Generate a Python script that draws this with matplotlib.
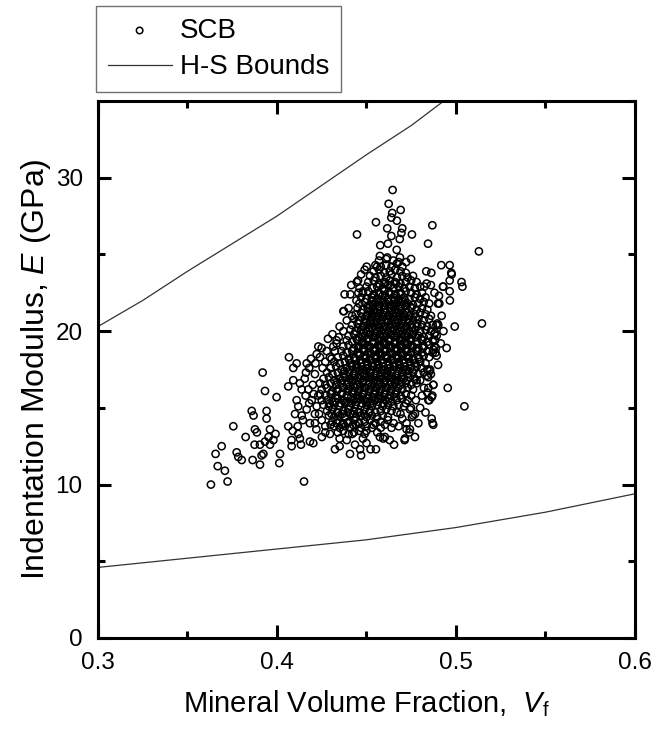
import numpy as np
import matplotlib
matplotlib.use('Agg')
import matplotlib.pyplot as plt
from matplotlib.ticker import MultipleLocator, FormatStrFormatter

plt.rcParams['font.family'] = ['Liberation Sans', 'DejaVu Sans']
plt.rcParams['mathtext.fontset'] = 'custom'
plt.rcParams['mathtext.rm'] = 'Liberation Sans'
plt.rcParams['mathtext.it'] = 'Liberation Sans:italic'

# Hashin-Shtrikman bounds
hs_upper_vf = [0.300, 0.325, 0.350, 0.375, 0.400, 0.425, 0.450, 0.475, 0.500]
hs_upper_e = [20.3, 22.0, 23.9, 25.7, 27.5, 29.5, 31.5, 33.4, 35.6]
hs_lower_vf = [0.30, 0.35, 0.40, 0.45, 0.50, 0.55, 0.60]
hs_lower_e = [4.6, 5.2, 5.8, 6.4, 7.2, 8.2, 9.4]

# SCB indentation points (Vf, E)
scb_core = """
0.434 13.4 0.437 13.5 0.440 13.3 0.443 13.4 0.446 13.5 0.449 13.3
0.432 13.8 0.435 13.7 0.438 13.8 0.441 13.7 0.444 13.9 0.447 13.7 0.450 13.8 0.453 13.7
0.431 14.1 0.434 14.2 0.437 14.0 0.440 14.1 0.443 14.2 0.446 14.0 0.449 14.1 0.452 14.2 0.455 14.0 0.458 14.1
0.429 14.5 0.432 14.4 0.435 14.5 0.438 14.4 0.441 14.6 0.444 14.4 0.447 14.5 0.450 14.4 0.453 14.5 0.456 14.4 0.459 14.5 0.462 14.4
0.428 14.8 0.431 14.9 0.434 14.7 0.437 14.8 0.440 14.9 0.443 14.8 0.446 14.7 0.449 14.9 0.452 14.8 0.455 14.7 0.458 14.8 0.461 14.9 0.464 14.8 0.467 14.7
0.426 15.2 0.429 15.1 0.432 15.2 0.435 15.1 0.438 15.3 0.441 15.1 0.444 15.2 0.447 15.1 0.450 15.2 0.453 15.1 0.456 15.2 0.459 15.1 0.462 15.2 0.465 15.1 0.468 15.2 0.471 15.1
0.425 15.5 0.428 15.5 0.431 15.4 0.434 15.6 0.437 15.5 0.440 15.4 0.443 15.5 0.446 15.6 0.449 15.5 0.452 15.4 0.455 15.5 0.458 15.6 0.461 15.5 0.464 15.4 0.467 15.5 0.470 15.6 0.473 15.5
0.424 15.9 0.427 15.8 0.430 15.9 0.433 15.8 0.436 15.9 0.439 15.8 0.442 16.0 0.445 15.8 0.448 15.9 0.451 15.8 0.454 15.9 0.457 15.8 0.460 15.9 0.463 15.8 0.466 15.9 0.469 15.8 0.472 15.9 0.475 15.8
0.425 16.2 0.428 16.3 0.431 16.1 0.434 16.2 0.437 16.3 0.440 16.2 0.443 16.1 0.446 16.2 0.449 16.3 0.452 16.2 0.455 16.1 0.458 16.2 0.461 16.3 0.464 16.2 0.467 16.1 0.470 16.2 0.473 16.3 0.476 16.2
0.424 16.6 0.427 16.5 0.430 16.6 0.433 16.5 0.436 16.6 0.439 16.5 0.442 16.7 0.445 16.5 0.448 16.6 0.451 16.5 0.454 16.6 0.457 16.5 0.460 16.6 0.463 16.5 0.466 16.6 0.469 16.5 0.472 16.6 0.475 16.5 0.478 16.6
0.426 16.9 0.429 17.0 0.432 16.8 0.435 16.9 0.438 17.0 0.441 16.9 0.444 16.8 0.447 16.9 0.450 17.0 0.453 16.9 0.456 16.8 0.459 16.9 0.462 17.0 0.465 16.9 0.468 16.8 0.471 16.9 0.474 17.0 0.477 16.9 0.480 16.8
0.428 17.3 0.431 17.2 0.434 17.3 0.437 17.2 0.440 17.3 0.443 17.2 0.446 17.4 0.449 17.2 0.452 17.3 0.455 17.2 0.458 17.3 0.461 17.2 0.464 17.3 0.467 17.2 0.470 17.3 0.473 17.2 0.476 17.3 0.479 17.2 0.482 17.3
0.430 17.6 0.433 17.7 0.436 17.5 0.439 17.6 0.442 17.7 0.445 17.6 0.448 17.5 0.451 17.6 0.454 17.7 0.457 17.6 0.460 17.5 0.463 17.6 0.466 17.7 0.469 17.6 0.472 17.5 0.475 17.6 0.478 17.7 0.481 17.6 0.484 17.5
0.432 18.0 0.435 17.9 0.438 18.0 0.441 17.9 0.444 18.1 0.447 17.9 0.450 18.0 0.453 17.9 0.456 18.0 0.459 17.9 0.462 18.0 0.465 17.9 0.468 18.0 0.471 17.9 0.474 18.0 0.477 17.9 0.480 18.0 0.483 17.9
0.434 18.3 0.437 18.4 0.440 18.2 0.443 18.3 0.446 18.4 0.449 18.3 0.452 18.2 0.455 18.3 0.458 18.4 0.461 18.3 0.464 18.2 0.467 18.3 0.470 18.4 0.473 18.3 0.476 18.2 0.479 18.3 0.482 18.4 0.485 18.3
0.436 18.7 0.439 18.6 0.442 18.7 0.445 18.6 0.448 18.8 0.451 18.6 0.454 18.7 0.457 18.6 0.460 18.7 0.463 18.6 0.466 18.7 0.469 18.6 0.472 18.7 0.475 18.6 0.478 18.7 0.481 18.6 0.484 18.7 0.487 18.6
0.437 19.0 0.440 19.1 0.443 18.9 0.446 19.0 0.449 19.1 0.452 19.0 0.455 18.9 0.458 19.0 0.461 19.1 0.464 19.0 0.467 18.9 0.470 19.0 0.473 19.1 0.476 19.0 0.479 18.9 0.482 19.0 0.485 19.1 0.488 19.0
0.439 19.4 0.442 19.3 0.445 19.4 0.448 19.3 0.451 19.5 0.454 19.3 0.457 19.4 0.460 19.3 0.463 19.4 0.466 19.3 0.469 19.4 0.472 19.3 0.475 19.4 0.478 19.3 0.481 19.4 0.484 19.3 0.487 19.4
0.440 19.7 0.443 19.8 0.446 19.6 0.449 19.7 0.452 19.8 0.455 19.7 0.458 19.6 0.461 19.7 0.464 19.8 0.467 19.7 0.470 19.6 0.473 19.7 0.476 19.8 0.479 19.7 0.482 19.6 0.485 19.7 0.488 19.8
0.441 20.1 0.444 20.0 0.447 20.1 0.450 20.0 0.453 20.2 0.456 20.0 0.459 20.1 0.462 20.0 0.465 20.1 0.468 20.0 0.471 20.1 0.474 20.0 0.477 20.1 0.480 20.0 0.483 20.1 0.486 20.0
0.442 20.4 0.445 20.5 0.448 20.3 0.451 20.4 0.454 20.5 0.457 20.4 0.460 20.3 0.463 20.4 0.466 20.5 0.469 20.4 0.472 20.3 0.475 20.4 0.478 20.5 0.481 20.4 0.484 20.3 0.487 20.4
0.443 20.8 0.446 20.7 0.449 20.8 0.452 20.7 0.455 20.9 0.458 20.7 0.461 20.8 0.464 20.7 0.467 20.8 0.470 20.7 0.473 20.8 0.476 20.7 0.479 20.8 0.482 20.7 0.485 20.8
0.444 21.1 0.447 21.2 0.450 21.0 0.453 21.1 0.456 21.2 0.459 21.1 0.462 21.0 0.465 21.1 0.468 21.2 0.471 21.1 0.474 21.0 0.477 21.1 0.480 21.2 0.483 21.1 0.486 21.0
0.445 21.5 0.448 21.4 0.451 21.5 0.454 21.4 0.457 21.6 0.460 21.4 0.463 21.5 0.466 21.4 0.469 21.5 0.472 21.4 0.475 21.5 0.478 21.4 0.481 21.5 0.484 21.4
0.446 21.8 0.449 21.9 0.452 21.7 0.455 21.8 0.458 21.9 0.461 21.8 0.464 21.7 0.467 21.8 0.470 21.9 0.473 21.8 0.476 21.7 0.479 21.8 0.482 21.9 0.485 21.8
0.447 22.2 0.450 22.1 0.453 22.2 0.456 22.1 0.459 22.3 0.462 22.1 0.465 22.2 0.468 22.1 0.471 22.2 0.474 22.1 0.477 22.2 0.480 22.1 0.483 22.2
0.448 22.5 0.451 22.6 0.454 22.4 0.457 22.5 0.460 22.6 0.463 22.5 0.466 22.4 0.469 22.5 0.472 22.6 0.475 22.5 0.478 22.4 0.481 22.5
0.450 22.9 0.453 22.8 0.456 22.9 0.459 22.8 0.462 23.0 0.465 22.8 0.468 22.9 0.471 22.8 0.474 22.9 0.477 22.8 0.480 22.9
0.451 23.2 0.454 23.3 0.457 23.1 0.460 23.2 0.463 23.3 0.466 23.2 0.469 23.1 0.472 23.2 0.475 23.3 0.478 23.2
0.452 23.6 0.455 23.5 0.458 23.6 0.461 23.5 0.464 23.7 0.467 23.5 0.470 23.6 0.473 23.5 0.476 23.6
0.454 23.9 0.457 24.0 0.460 23.8 0.463 23.9 0.466 24.0 0.469 23.9 0.472 23.8
0.455 24.3 0.458 24.2 0.461 24.3 0.464 24.2 0.467 24.4 0.470 24.2
0.457 24.6 0.461 24.7 0.465 24.6 0.468 24.5
"""

# offset layers filling the darkest part of the cloud
scb_dense = """
0.4415 15.7 0.4445 15.6 0.4475 15.7 0.4505 15.6 0.4535 15.7 0.4565 15.6 0.4595 15.7 0.4625 15.6 0.4655 15.7
0.4405 16.4 0.4435 16.3 0.4465 16.4 0.4495 16.3 0.4525 16.4 0.4555 16.3 0.4585 16.4 0.4615 16.3 0.4645 16.4 0.4675 16.3
0.4425 17.1 0.4455 17.0 0.4485 17.1 0.4515 17.0 0.4545 17.1 0.4575 17.0 0.4605 17.1 0.4635 17.0 0.4665 17.1 0.4695 17.0
0.4445 17.8 0.4475 17.7 0.4505 17.8 0.4535 17.7 0.4565 17.8 0.4595 17.7 0.4625 17.8 0.4655 17.7 0.4685 17.8 0.4715 17.7
0.4465 18.5 0.4495 18.4 0.4525 18.5 0.4555 18.4 0.4585 18.5 0.4615 18.4 0.4645 18.5 0.4675 18.4 0.4705 18.5 0.4735 18.4
0.4475 19.2 0.4505 19.1 0.4535 19.2 0.4565 19.1 0.4595 19.2 0.4625 19.1 0.4655 19.2 0.4685 19.1 0.4715 19.2 0.4745 19.1
0.4485 19.9 0.4515 19.8 0.4545 19.9 0.4575 19.8 0.4605 19.9 0.4635 19.8 0.4665 19.9 0.4695 19.8 0.4725 19.9 0.4755 19.8
0.4495 20.6 0.4525 20.5 0.4555 20.6 0.4585 20.5 0.4615 20.6 0.4645 20.5 0.4675 20.6 0.4705 20.5 0.4735 20.6
0.4515 21.3 0.4545 21.2 0.4575 21.3 0.4605 21.2 0.4635 21.3 0.4665 21.2 0.4695 21.3 0.4725 21.2
0.4535 22.0 0.4565 21.9 0.4595 22.0 0.4625 21.9 0.4655 22.0 0.4685 21.9 0.4715 22.0
0.4335 14.0 0.4365 13.9 0.4395 14.0 0.4425 13.9 0.4455 14.0
0.4305 14.6 0.4335 14.7 0.4365 14.6 0.4395 14.7 0.4425 14.6 0.4455 14.7 0.4485 14.6 0.4515 14.7
0.4295 15.3 0.4325 15.4 0.4355 15.3 0.4385 15.4 0.4415 15.3 0.4445 15.4 0.4475 15.3 0.4505 15.4 0.4535 15.3 0.4565 15.4 0.4595 15.3
0.4305 16.0 0.4335 16.1 0.4365 16.0 0.4395 16.1 0.4425 16.0 0.4455 16.1 0.4485 16.0 0.4515 16.1 0.4545 16.0 0.4575 16.1 0.4605 16.0 0.4635 16.1 0.4665 16.0
0.4335 16.7 0.4365 16.8 0.4395 16.7 0.4425 16.8 0.4455 16.7 0.4485 16.8 0.4515 16.7 0.4545 16.8 0.4575 16.7 0.4605 16.8 0.4635 16.7 0.4665 16.8 0.4695 16.7 0.4725 16.8
0.4375 17.4 0.4405 17.5 0.4435 17.4 0.4465 17.5 0.4495 17.4 0.4525 17.5 0.4555 17.4 0.4585 17.5 0.4615 17.4 0.4645 17.5 0.4675 17.4 0.4705 17.5 0.4735 17.4 0.4765 17.5
0.4405 18.1 0.4435 18.2 0.4465 18.1 0.4495 18.2 0.4525 18.1 0.4555 18.2 0.4585 18.1 0.4615 18.2 0.4645 18.1 0.4675 18.2 0.4705 18.1 0.4735 18.2 0.4765 18.1 0.4795 18.2
0.4425 18.8 0.4455 18.9 0.4485 18.8 0.4515 18.9 0.4545 18.8 0.4575 18.9 0.4605 18.8 0.4635 18.9 0.4665 18.8 0.4695 18.9 0.4725 18.8 0.4755 18.9 0.4785 18.8 0.4815 18.9
0.4445 19.5 0.4475 19.6 0.4505 19.5 0.4535 19.6 0.4565 19.5 0.4595 19.6 0.4625 19.5 0.4655 19.6 0.4685 19.5 0.4715 19.6 0.4745 19.5 0.4775 19.6 0.4805 19.5
0.4455 20.2 0.4485 20.3 0.4515 20.2 0.4545 20.3 0.4575 20.2 0.4605 20.3 0.4635 20.2 0.4665 20.3 0.4695 20.2 0.4725 20.3 0.4755 20.2 0.4785 20.3
0.4475 20.9 0.4505 21.0 0.4535 20.9 0.4565 21.0 0.4595 20.9 0.4625 21.0 0.4655 20.9 0.4685 21.0 0.4715 20.9 0.4745 21.0 0.4775 20.9
0.4505 21.6 0.4535 21.7 0.4565 21.6 0.4595 21.7 0.4625 21.6 0.4655 21.7 0.4685 21.6 0.4715 21.7 0.4745 21.6
0.4545 22.3 0.4575 22.4 0.4605 22.3 0.4635 22.4 0.4665 22.3 0.4695 22.4
0.4575 23.0 0.4605 23.1 0.4635 23.0 0.4665 23.1
"""

scb_outer = """
0.4646 29.2 0.4624 28.3 0.4691 27.9 0.4644 27.7 0.4553 27.1 0.4868 26.9 0.4639 27.4 0.4670 27.2
0.4616 26.7 0.4700 26.7 0.4447 26.3 0.4695 26.4 0.4754 26.3 0.4639 26.2 0.4577 25.6 0.4620 25.7
0.4844 25.7 0.4686 26.0 0.4918 24.3 0.4965 24.3 0.4974 23.8 0.4965 23.3 0.4927 22.9 0.4965 22.6
0.4966 22.0 0.5031 23.2 0.5036 22.9 0.5128 25.2 0.4993 20.3 0.5145 20.5 0.4378 22.4 0.4371 21.3
0.4501 24.2 0.4453 23.3 0.4444 22.0 0.4834 23.9 0.4862 23.8 0.4899 21.8 0.4890 20.4
0.4575 24.9 0.4616 24.8 0.4669 25.3 0.4687 24.8 0.4722 24.5 0.4749 24.7 0.4559 24.2
0.4823 22.9 0.4836 23.1 0.4461 22.8 0.4480 22.6 0.4907 21.8 0.4883 19.9 0.4883 19.4 0.4888 18.9
0.4948 18.9 0.4954 16.3 0.5047 15.1 0.4864 14.3 0.4873 13.9 0.4851 15.5 0.4868 15.8 0.4821 16.3
0.4873 16.5 0.4845 17.0 0.4854 17.4 0.4892 18.4 0.4873 18.8 0.4892 19.7 0.4901 20.4 0.4771 13.1
0.4715 13.0 0.4743 13.6 0.4724 14.0 0.4754 14.4 0.4771 14.6 0.4749 15.0 0.4776 15.5
0.3631 10.0 0.3724 10.2 0.3709 10.9 0.3669 11.2 0.3657 12.0 0.3691 12.5 0.3756 13.8 0.4151 10.2
0.3920 17.3 0.3933 16.1 0.3998 15.7 0.3859 14.8 0.3869 14.5 0.3942 14.3 0.3942 14.8 0.3775 12.1
0.3784 11.8 0.3803 11.6 0.3825 13.1 0.3864 11.6 0.3905 11.3 0.3877 13.6 0.3888 13.4 0.3961 13.6
0.3953 13.1 0.3933 12.8 0.3961 12.6 0.3905 12.6 0.3924 12.0 0.3914 11.9 0.4017 12.0 0.4013 11.4
0.3992 13.3 0.3980 12.9 0.3875 12.6
0.4063 13.8 0.4088 13.5 0.4116 13.8 0.4119 13.3 0.4081 12.9 0.4128 13.0 0.4082 12.5 0.4134 12.6
0.4184 12.8 0.4203 12.7 0.4251 13.1 0.4296 13.3 0.4324 12.3 0.4408 12.0 0.4436 12.6 0.4464 12.3
0.4523 12.3 0.4553 12.3 0.4575 13.1 0.4603 13.1 0.4654 12.6 0.4713 12.9 0.4739 13.4 0.4603 13.9
0.4538 13.9
0.4067 18.3 0.4110 17.9 0.4091 17.6 0.4166 17.9 0.4162 17.3 0.4212 17.2 0.4063 16.4 0.4091 16.8
0.4128 16.6 0.4138 16.2 0.4110 15.5 0.4119 15.1 0.4101 14.6 0.4138 14.5 0.4166 14.9 0.4212 14.6
0.4231 19.0 0.4250 18.9 0.4222 18.5 0.4278 18.7 0.4175 16.2 0.4194 15.5 0.4231 15.8 0.4222 15.1
0.4184 14.0 0.4212 14.0 0.4333 19.2 0.4324 18.7 0.4305 18.2 0.4371 20.0 0.4374 21.3
0.4155 16.9 0.4180 17.6 0.4200 16.5 0.4215 17.9 0.4190 18.2 0.4240 18.3 0.4160 15.8 0.4205 15.9
0.4180 15.3 0.4235 14.6 0.4250 14.2 0.4270 13.8 0.4300 13.9 0.4220 13.6 0.4270 13.4 0.4145 14.2
0.4255 17.6 0.4270 18.0 0.4285 19.5 0.4310 19.8 0.4345 19.6 0.4350 20.3 0.4390 20.7 0.4400 21.5
0.4410 22.4 0.4420 21.0 0.4415 23.0 0.4470 23.7 0.4490 24.0 0.4446 23.2 0.4455 22.5 0.4333 19.4
0.4315 19.0 0.4296 18.3
0.4350 13.0 0.4390 12.9 0.4420 13.3 0.4480 13.0 0.4500 13.5 0.4560 13.4 0.4580 13.7 0.4620 14.2
0.4640 13.7 0.4680 13.8 0.4700 14.3 0.4690 14.6 0.4720 15.3 0.4470 11.9 0.4500 12.7 0.4350 12.5
0.4594 13.0 0.4630 12.9 0.4652 14.0 0.4743 14.9 0.4761 14.5 0.4724 13.6
0.4900 17.8 0.4915 19.2 0.4920 21.0 0.4905 22.3 0.4880 22.5 0.4860 23.0 0.4930 20.0 0.4840 16.0
0.4800 15.0 0.4830 14.7 0.4790 14.0 0.4780 16.8 0.4860 17.2 0.4810 15.8 0.4976 23.7 0.4929 22.9
0.4896 20.5 0.4886 18.6 0.4855 17.5 0.4838 17.1 0.4874 16.5 0.4846 16.3 0.4864 15.7 0.4846 15.5
0.4869 14.0
"""

pts = [np.array(s.split(), dtype=float).reshape(-1, 2) for s in (scb_core, scb_dense, scb_outer)]
scb = np.vstack(pts)
scb_vf = scb[:, 0]
scb_e = scb[:, 1]

fig = plt.figure(figsize=(6.54, 7.34), dpi=100)
ax = fig.add_axes([0.1498, 0.1308, 0.8211, 0.7316])

ax.scatter(scb_vf, scb_e, s=27, facecolors='none', edgecolors='black',
           linewidths=1.1, label='SCB', zorder=3)
ax.plot(hs_upper_vf, hs_upper_e, '-', color='0.2', lw=0.9, label='H-S Bounds')
ax.plot(hs_lower_vf, hs_lower_e, '-', color='0.2', lw=0.9)

ax.set_xlim(0.3, 0.6)
ax.set_ylim(0, 35)
ax.xaxis.set_major_locator(MultipleLocator(0.1))
ax.xaxis.set_minor_locator(MultipleLocator(0.05))
ax.yaxis.set_major_locator(MultipleLocator(10))
ax.yaxis.set_minor_locator(MultipleLocator(5))
ax.xaxis.set_major_formatter(FormatStrFormatter('%.1f'))
ax.tick_params(which='both', direction='in', top=True, right=True, width=2.2)
ax.tick_params(which='major', length=9.5)
ax.tick_params(which='minor', length=5)
ax.tick_params(axis='x', labelsize=17.5, pad=10)
ax.tick_params(axis='y', labelsize=17.5, pad=11)
for sp in ax.spines.values():
  sp.set_linewidth(2.2)

ax.set_xlabel('Mineral Volume Fraction,  $\\mathit{V}_{\\mathrm{f}}$', fontsize=21)
ax.xaxis.set_label_coords(0.5, -0.094)
ax.set_ylabel('Indentation Modulus, $\\mathit{E}$ (GPa)', fontsize=23)
ax.yaxis.set_label_coords(-0.083, 0.5)

fig.legend(loc='lower left', bbox_to_anchor=(96/654, 1-92/734), borderaxespad=0,
           fontsize=20, frameon=True, fancybox=False, edgecolor='0.3',
           handlelength=2.3, handletextpad=0.3, borderpad=0.42,
           labelspacing=0.38, scatterpoints=1, markerscale=0.9)

plt.savefig('out.png', dpi=100, facecolor='white')
